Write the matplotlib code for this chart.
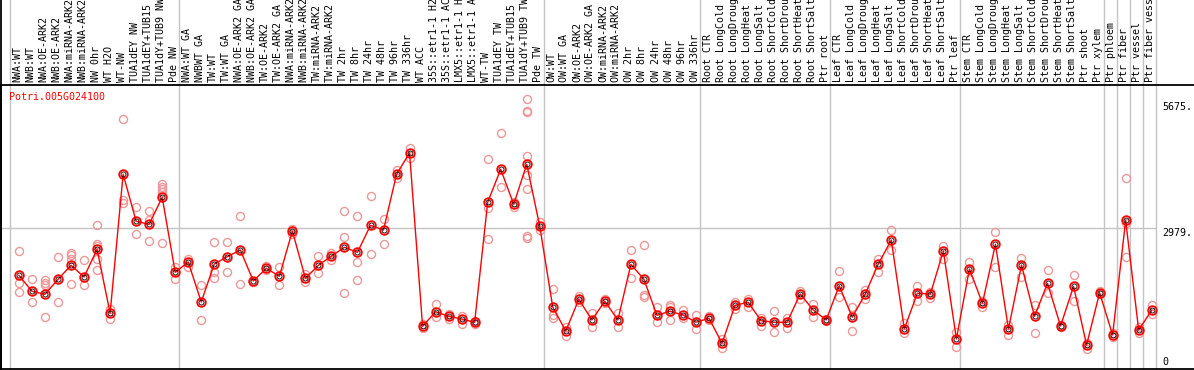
import matplotlib
matplotlib.use('Agg')
from matplotlib import pyplot as plt
from matplotlib.lines import Line2D
import matplotlib.transforms as mtransforms

gene = 'Potri.005G024100'

samples = ['NWA:WT', 'NWB:WT', 'NWA:OE-ARK2', 'NWB:OE-ARK2', 'NWA:miRNA-ARK2', 'NWB:miRNA-ARK2',
           'NW 0hr', 'WT H2O', 'WT-NW', 'TUA1dEY NW', 'TUA1dEY+TUB15 NW', 'TUA1dY+TUB9 NW', 'Pde NW',
           'NWA:WT GA', 'NWBWT GA', 'TW:WT', 'TW:WT GA', 'NWA:OE-ARK2 GA', 'NWB:OE-ARK2 GA',
           'TW:OE-ARK2', 'TW:OE-ARK2 GA', 'NWA:miRNA-ARK2 GA', 'NWB:miRNA-ARK2 GA', 'TW:miRNA-ARK2',
           'TW:miRNA-ARK2 GA', 'TW 2hr', 'TW 8hr', 'TW 24hr', 'TW 48hr', 'TW 96hr', 'TW 336hr', 'WT ACC',
           '35S::etr1-1 H2O', '35S::etr1-1 ACC', 'LMX5::etr1-1 H2O', 'LMX5::etr1-1 ACC', 'WT-TW',
           'TUA1dEY TW', 'TUA1dEY+TUB15 TW', 'TUA1dY+TUB9 TW', 'Pde TW',
           'OW:WT', 'OW:WT GA', 'OW:OE-ARK2', 'OW:OE-ARK2 GA', 'OW:miRNA-ARK2', 'OW:miRNA-ARK2 GA',
           'OW 2hr', 'OW 8hr', 'OW 24hr', 'OW 48hr', 'OW 96hr', 'OW 336hr',
           'Root CTR', 'Root LongCold', 'Root LongDrought', 'Root LongHeat', 'Root LongSalt',
           'Root ShortCold', 'Root ShortDrought', 'Root ShortHeat', 'Root ShortSalt', 'Ptr root',
           'Leaf CTR', 'Leaf LongCold', 'Leaf LongDrought', 'Leaf LongHeat', 'Leaf LongSalt',
           'Leaf ShortCold', 'Leaf ShortDrought', 'Leaf ShortHeat', 'Leaf ShortSalt', 'Ptr leaf',
           'Stem CTR', 'Stem LongCold', 'Stem LongDrought', 'Stem LongHeat', 'Stem LongSalt',
           'Stem ShortCold', 'Stem ShortDrought', 'Stem ShortHeat', 'Stem ShortSalt', 'Ptr shoot',
           'Ptr xylem', 'Ptr phloem', 'Ptr fiber', 'Ptr vessel', 'Ptr fiber vessel']

# group borders (index of the first sample of each group)
group_starts = [0, 13, 41, 53, 63, 73, 84, 85, 86, 87, 88]

# mean expression per sample
means = [1990, 1656, 1593, 1907, 2199, 1955, 2534, 1196, 4102, 3119, 3056, 3621, 2053,
         2268, 1432, 2226, 2379, 2519, 1871, 2136, 1969, 2916, 1927, 2199, 2394, 2575, 2471,
         3035, 2937, 4102, 4547, 924, 1229, 1133, 1077, 1008, 3516, 4206, 3474, 4311, 3015,
         1321, 826, 1488, 1056, 1447, 1056, 2220, 1907, 1154, 1238, 1160, 1008,
         1091, 569, 1363, 1426, 1041, 1008, 1008, 1599, 1265, 1056,
         1773, 1112, 1599, 2226, 2728, 868, 1614, 1599, 2498, 659,
         2122, 1405, 2638, 868, 2205, 1133, 1823, 930, 1760, 533, 1626,
         742, 3140, 847, 1258]

# replicate values per sample
reps = [[2492, 1835, 1635], [1907, 1432], [1892, 1835, 1781, 1112], [2366, 1432],
        [2463, 2408, 2337, 1802], [2304, 1781], [3035, 2644, 2603, 2325, 2095], [1292, 1083],
        [5251, 3564, 3495], [3412, 2847], [3328, 3146, 2701], [3899, 3842, 3788, 3732, 2659],
        [2170, 1919],
        [2337, 2170], [1781, 1056], [2680, 2059, 1927], [2680, 2059], [3230, 1808], [1880, 1860],
        [2191, 2101], [2164, 1781], [2952, 2847], [2017, 1850], [2394, 2032], [2450, 2310],
        [3328, 2791, 1620], [3230, 2274, 1886], [3642, 2435], [3173, 2638], [4191, 4031],
        [4651, 4449], [895, 982], [1390, 1118], [1181, 1083], [1146, 966], [1041, 966],
        [4415, 3391, 2749], [4959, 3842], [3529, 3424],
        [5675, 5431, 5398, 4484, 4081, 3788, 2818, 2776], [3111, 2937],
        [1710, 1160, 1091], [903, 727], [1557, 1432], [1202, 903], [1495, 1405], [1196, 903],
        [2513, 1927], [2624, 1578, 1530], [1321, 1008], [1376, 1321, 1056], [1265, 1104],
        [1154, 861],
        [1139, 1056], [652, 464], [1432, 1279], [1488, 1334], [1104, 930], [1238, 811],
        [1104, 895], [1668, 1495], [1390, 1125], [1077, 1035],
        [2074, 1530], [1321, 819], [1683, 1501], [2337, 2065], [2937, 2519], [987, 778],
        [1766, 1459], [1647, 1509], [2609, 2325], [799, 498],
        [2268, 1907], [1459, 1334], [2895, 2164], [951, 748], [2358, 1955], [1369, 778],
        [2095, 1626], [945, 909], [1996, 1459], [443, 569], [1656, 1599],
        [694, 790], [4018, 3077, 2366], [916, 778], [1369, 1181]]

y_ticks = [5675, 2979, 0]
y_tick_labels = ['5675.', '2979.', '0']
ref_level = 2979

W, H = 1194, 370
fig = plt.figure(figsize=(W / 100, H / 100), dpi=100)
ax = fig.add_axes([1 / W, 1 / H, (W - 1) / W, 284 / H])

mono = 'DejaVu Sans Mono'
grey = '#c4c4c4'
x_off = 0.69  # point position inside its column

for b in group_starts:
    ax.axvline(b, ymin=0, ymax=1.31, color=grey, lw=1.0, clip_on=False, zorder=1)
ax.hlines(ref_level, -1, group_starts[-1], color=grey, lw=1.0, zorder=1)

xs = [i + x_off for i in range(len(means))]
for x, r in zip(xs, reps):
    ax.plot([x] * len(r), r, 'o', ms=5.8, mfc='none', mec='#ec9898', mew=1.0, zorder=2)
ax.plot(xs, means, '-', color='red', lw=1.0, zorder=3)
ax.plot(xs, means, 'o', ms=6.2, mfc='none', mec='red', mew=1.3, zorder=4)
ax.plot(xs, means, 'o', ms=3.6, mfc='none', mec='black', mew=0.6, zorder=5)

ax.set_xlim(-0.69, 90.94)
ax.set_ylim(31, 5968)
ax.set_xticks([])
ax.set_yticks([])
ax.spines['right'].set_visible(False)
for s in ['top', 'bottom', 'left']:
    ax.spines[s].set_linewidth(1.3)
    ax.spines[s].set_color('black')

# sample names above the plot
trans = mtransforms.blended_transform_factory(ax.transData, fig.transFigure)
for i, name in enumerate(samples):
    ax.text(i + 0.58, (H - 82) / H, name, rotation=90, ha='center', va='bottom',
            family=mono, fontsize=7.2, color='black', transform=trans, clip_on=False)

# value labels on the right
offsets = [-8, -5, 8]
for v, lab, dy in zip(y_ticks, y_tick_labels, offsets):
    ax.annotate(lab, xy=(group_starts[-1], v), xytext=(7, dy), textcoords='offset pixels',
                ha='left', va='center', family=mono, fontsize=7.2, color='black',
                annotation_clip=False)

ax.annotate(gene, xy=(0, 1), xycoords='axes fraction', xytext=(8, -12),
            textcoords='offset pixels', ha='left', va='center', family=mono,
            fontsize=7.2, color='red')

fig.add_artist(Line2D([0.6 / W, 0.6 / W], [0, 1], color='black', lw=1.3))

fig.savefig('out.png', dpi=100)
